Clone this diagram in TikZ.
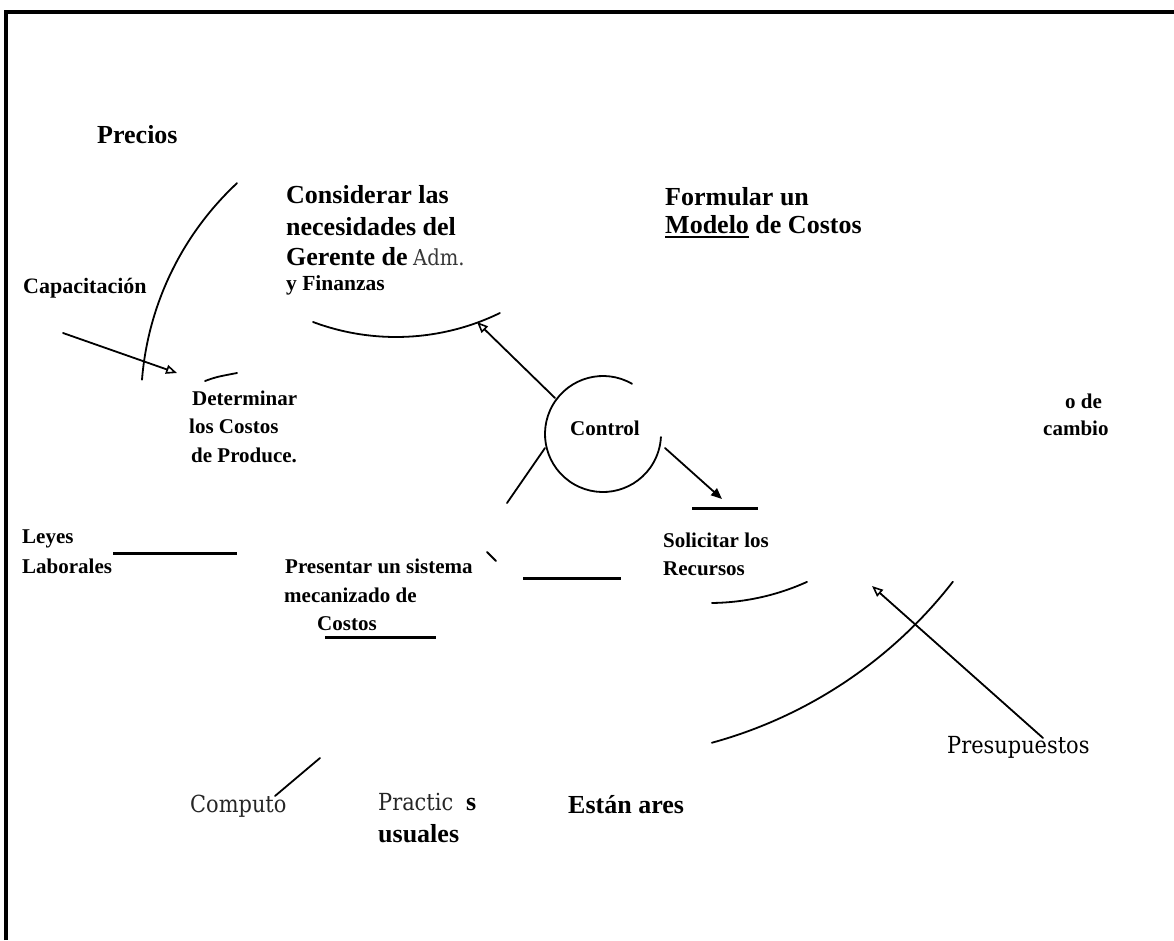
\documentclass[tikz,border=0pt]{standalone}
\usepackage{fontspec}
\setmainfont{Liberation Serif}
\newfontfamily\scanfont[FakeStretch=0.89]{DejaVu Serif}
\usetikzlibrary{arrows.meta}
\newcommand\bigbf{\fontsize{26}{30}\selectfont\bfseries}
\newcommand\midbf{\fontsize{21}{25}\selectfont\bfseries}
\newcommand\scantext{\fontsize{23.5}{27}\selectfont\scanfont}
\newcommand\ulword[1]{\setbox0=\hbox{#1}\rlap{\rule[-5pt]{\wd0}{2.2pt}}\box0\relax}
\begin{document}
\begin{tikzpicture}[x=1pt,y=-1pt,
  lbl/.style={inner sep=0pt, anchor=base west},
  big/.style={lbl, font=\bigbf},
  mid/.style={lbl, font=\midbf},
  scan/.style={lbl, font=\scantext, text=black},
  stroke/.style={line width=1.8pt, line cap=round},
  bar/.style={line width=3pt},
  arr/.style={stroke, -{Triangle[open, length=11pt, width=9pt, line width=1.6pt]}},
  arrfill/.style={stroke, -{Triangle[length=11pt, width=9pt]}},
]
\useasboundingbox[fill=white] (0,0) rectangle (1174,940);

% frame (top and left edges)
\draw[line width=3.4pt] (6,940) -- (6,12) -- (1174,12);

% labels
\node[big] (precios) at (97,143) {Precios};
\node[big] (cons1) at (286,203) {Considerar las};
\node[big] (cons2) at (286,235) {necesidades del};
\node[big] (cons3) at (286,265) {Gerente de};
\node[lbl, font=\fontsize{22}{26}\selectfont\scanfont, text=black!78] (adm) at (413,265) {Adm.};
\node[lbl, font=\fontsize{21.5}{25}\selectfont\bfseries] (cons4) at (286,290) {y Finanzas};
\node[big] (form1) at (665,205) {Formular un};
\node[big] (form2) at (665,233) {\ulword{Modelo} de Costos};
\node[lbl, font=\fontsize{22}{26}\selectfont\bfseries] (capac) at (23,293) {Capacitación};
\node[mid] (det1) at (192,405) {Determinar};
\node[mid] (det2) at (189,433) {los Costos};
\node[mid] (det3) at (191,462) {de Produce.};
\node[mid] (ctl) at (570,435) {Control};
\node[mid] (camb1) at (1065,408) {o de};
\node[mid] (camb2) at (1043,435) {cambio};
\node[mid] (leyes1) at (22,543) {Leyes};
\node[mid] (leyes2) at (22,573) {Laborales};
\node[mid] (pres1) at (285,573) {Presentar un sistema};
\node[mid] (pres2) at (284,602) {mecanizado de};
\node[mid] (pres3) at (317,630) {Costos};
\node[mid] (sol1) at (663,547) {Solicitar los};
\node[mid] (sol2) at (663,575) {Recursos};
\node[scan] (presup) at (947,753) {Presupuestos};
\node[scan, text=black!85] (comp) at (190,812) {Computo};
\node[scan, text=black!85] (pract) at (378,810) {Practic};
\node[big] (practs) at (466,810) {s};
\node[big] (usual) at (378,842) {usuales};
\node[big] (estan) at (568,813) {Están ares};

% heavy rules beside the labels
\draw[bar] (113,553) -- (237,553);
\draw[bar] (325,637) -- (436,637);
\draw[bar] (523,578) -- (621,578);
\draw[bar] (692,508) -- (758,508);

% Control circle (open at the upper right)
\draw[stroke] ([shift={(-60:58)}]603,434) arc[start angle=-60, end angle=-357, radius=58];

% large arcs
\draw[stroke] ([shift={(64:237)}]396,100) arc[start angle=64, end angle=110.5, radius=237];
\draw[stroke] ([shift={(-175.4:302)}]443,404) arc[start angle=-175.4, end angle=-133, radius=302];
\draw[stroke] ([shift={(65.7:238)}]709,365) arc[start angle=65.7, end angle=89.3, radius=238];
\draw[stroke] ([shift={(37.8:458)}]591,301) arc[start angle=37.8, end angle=74.7, radius=458];
\draw[stroke] (205,381) .. controls (216,377) .. (237,373);

% connectors
\coordinate (capT) at (63,333);
\coordinate (capH) at (177,373);
\draw[arr] (capT) -- (capH);

\coordinate (ctlNW) at (555,398);
\coordinate (consH) at (477,322);
\draw[arr] (ctlNW) -- (consH);

\coordinate (ctlE) at (665,448);
\coordinate (solH) at (722,499);
\draw[arrfill] (ctlE) -- (solH);

\coordinate (ctlSW) at (545,448);
\coordinate (ctlCut) at (507,503);
\draw[stroke] (ctlSW) -- (ctlCut);

\coordinate (presT) at (1043,738);
\coordinate (presH) at (872,586);
\draw[arr] (presT) -- (presH);

\coordinate (compT) at (275,796);
\coordinate (compCut) at (320,758);
\draw[stroke] (compT) -- (compCut);

\draw[stroke] (487,552) -- (496,561);
\end{tikzpicture}
\end{document}
